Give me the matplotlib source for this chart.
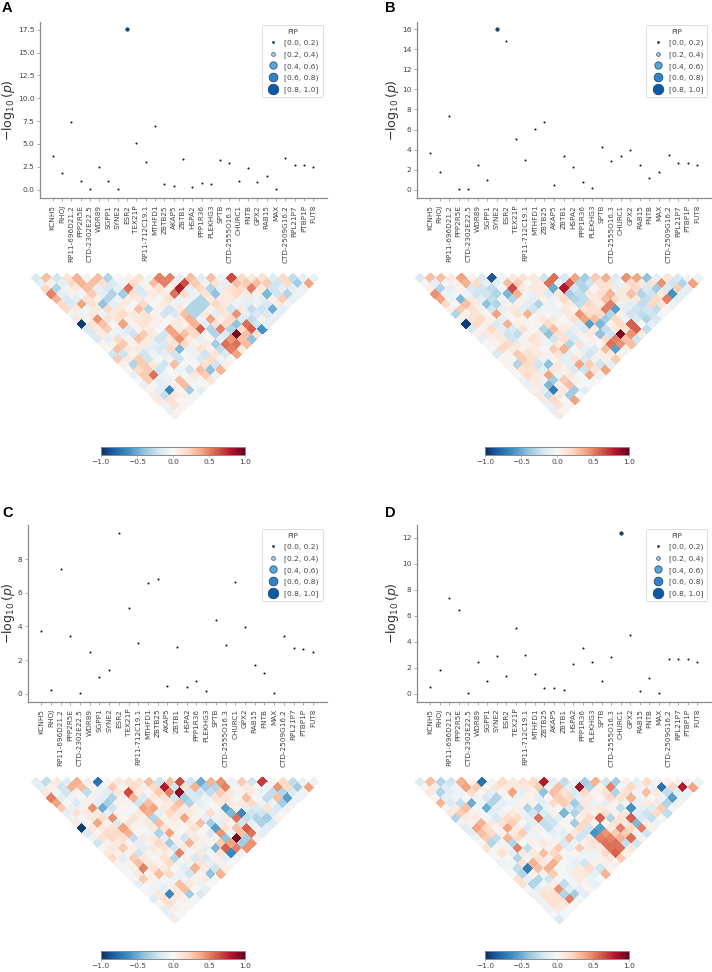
import numpy as np
import matplotlib
matplotlib.use("Agg")
import matplotlib.pyplot as plt
from matplotlib.lines import Line2D

W, H = 712, 972

genes_a = ["KCNH5", "RHOJ", "RP11-696D21.2", "PPP2R5E", "CTD-2302E22.5", "WDR89", "SGPP1", "SYNE2", "ESR2", "TEX21P",
           "RP11-712C19.1", "MTHFD1", "ZBTB25", "AKAP5", "ZBTB1", "HSPA2", "PPP1R36", "PLEKHG3", "SPTB", "CTD-2555O16.3",
           "CHURC1", "FNTB", "GPX2", "RAB15", "MAX", "CTD-2509G16.2", "RPL21P7", "PTBP1P", "FUT8"]
genes_b = ["KCNH5", "RHOJ", "RP11-696D21.2", "PPP2R5E", "CTD-2302E22.5", "WDR89", "SGPP1", "SYNE2", "ESR2", "TEX21P",
           "RP11-712C19.1", "MTHFD1", "ZBTB25", "AKAP5", "ZBTB1", "HSPA2", "PPP1R36", "PLEKHG3", "SPTB", "CTD-2555O16.3",
           "CHURC1", "GPX2", "RAB15", "FNTB", "MAX", "CTD-2509G16.2", "RPL21P7", "PTBP1P", "FUT8"]

logp_a = [3.7, 1.8, 7.4, 0.9, 0.05, 2.45, 1.0, 0.05, 17.55, 5.1, 3.0, 7.0, 0.6, 0.45, 3.4, 0.25, 0.75, 0.65, 3.3, 2.9,
          1.0, 2.35, 0.85, 1.5, 0.03, 3.45, 2.7, 2.65, 2.45]
logp_b = [3.7, 1.8, 7.4, 0.1, 0.03, 2.45, 1.0, 16.0, 14.85, 5.1, 3.0, 6.1, 6.8, 0.45, 3.4, 2.3, 0.75, 0.2, 4.3, 2.85,
          3.4, 3.95, 2.5, 1.2, 1.8, 3.45, 2.7, 2.65, 2.45]
logp_c = [3.7, 0.2, 7.4, 3.45, 0.03, 2.45, 1.0, 1.4, 9.55, 5.1, 3.0, 6.55, 6.8, 0.45, 2.75, 0.4, 0.75, 0.15, 4.35, 2.9,
          6.65, 3.95, 1.7, 1.2, 0.03, 3.45, 2.7, 2.65, 2.45]
logp_d = [0.5, 1.8, 7.4, 6.45, 0.03, 2.45, 1.0, 2.9, 1.4, 5.1, 3.0, 1.55, 0.45, 0.45, 0.25, 2.3, 3.55, 2.45, 1.0, 2.85,
          12.4, 4.5, 0.2, 1.2, 0.03, 2.7, 2.7, 2.65, 2.45]

# gene that carries the high PIP dot in each panel (None = no dot stands out)
lead_a, lead_b, lead_c, lead_d = "ESR2", "SYNE2", None, "CHURC1"

# correlation rows, first row = neighbouring genes, last row = first vs last gene
ld_a = [
    [-.15, .3, -.2, .15, .35, .03, .3, -.3, 0, .05, .15, -.03, .5, .5, -.1, .3, -.1, .3, -.05, .65, .2, .1, .15, -.12, .2, -.25, -.08, -.08],
    [-.1, .05, -.1, .2, .35, .3, .15, -.15, -.05, .2, .05, .3, .5, .1, .65, .25, -.05, .15, -.1, .3, .25, .3, .25, -.2, .2, -.35, .4],
    [.2, -.3, -.05, .1, .3, -.1, -.15, -.1, .55, -.15, .05, .15, .05, .8, -.1, .2, -.3, -.1, .15, .2, .5, .1, -.2, -.1, -.1, -.05],
    [.5, -.1, .05, -.02, .25, -.1, -.3, -.35, .15, -.15, .1, .1, .55, .2, -.05, .15, -.4, .1, .2, .1, .05, -.45, -.2, -.3, -.05],
    [.35, -.15, -.1, .15, .05, -.3, -.05, .1, .1, .05, -.02, .15, -.05, -.05, -.3, .1, .1, .1, -.05, -.1, -.1, .05, .25, -.08],
    [.2, -.15, .4, .15, -.4, -.1, .1, .02, .2, -.03, .1, -.05, .05, -.3, -.3, .2, .1, -.05, -.1, -.05, -.15, .1, -.05],
    [.2, .1, -.05, .1, .2, .1, -.03, .3, -.3, .05, -.2, .1, -.3, -.3, .05, .15, -.2, .1, -.25, -.2, -.5, -.1],
    [-.05, -.05, .1, -.05, .1, .2, .1, .15, .05, -.2, -.15, .3, -.3, .1, -.1, .1, .45, -.1, -.15, -.15, -.1],
    [.1, .05, .45, .15, .15, .05, .1, .15, .05, .02, .1, .35, -.05, .4, .05, .2, -.15, -.25, .05, -.1],
    [-.95, .15, .3, -.02, .4, .05, .15, .05, -.02, .1, .05, .35, -.1, .15, .2, -.4, .55, -.2, -.1],
    [-.15, .1, .25, -.05, -.15, .05, .1, -.02, .4, .1, .2, .6, -.3, .5, -.3, .2, .6, -.6],
    [-.15, .1, -.05, -.1, -.2, .25, .1, -.2, .4, .3, .2, 0, -.3, -.15, .95, .3, .15],
    [-.15, -.1, .2, .05, .3, .1, -.2, .1, .45, .1, -.08, .05, -.1, .45, .3, -.4],
    [.02, .05, .25, .05, .1, -.1, -.15, .15, .2, .05, .1, -.35, .55, .55, .3],
    [.02, .3, .1, .1, -.1, -.15, .2, -.45, -.05, .15, .05, -.25, .5, .1],
    [-.2, -.2, .05, -.2, -.05, -.1, -.2, -.02, -.05, -.2, .15, -.15, .4],
    [.25, .1, .25, -.2, -.03, .05, -.2, -.02, -.15, .2, -.05, -.02],
    [.05, -.3, .25, .1, -.2, .3, 0, .02, .15, -.2, .05],
    [.02, .2, .25, -.2, 0, -.05, -.2, .3, -.4, .35],
    [-.08, .25, .55, -.05, .02, -.03, .1, .25, -.05],
    [-.02, .25, -.1, -.05, .3, .05, -.03, .15],
    [-.08, -.03, -.1, .05, .3, -.03, .02],
    [.03, -.1, -.65, .03, -.35, -.1],
    [.08, -.25, .1, .05, -.03],
    [.1, .15, .03, -.02],
    [-.05, .15, .03],
    [-.08, .03],
    [.05],
]
ld_b = [
    [-.15, .3, .3, .08, .4, .05, -.15, -.85, -.03, .1, .15, .1, -.2, .55, -.15, .4, -.35, .25, .35, -.12, .45, .4, -.4, -.1, .12, -.15, -.05, -.05],
    [-.02, -.1, .05, .05, .35, .2, -.1, -.1, .3, .25, 0, .1, .55, -.05, .6, -.3, -.2, .15, .15, -.05, .2, .1, .15, .45, -.2, -.3, .4],
    [.05, -.3, -.1, .05, -.15, -.2, -.25, -.02, .65, .1, .1, .1, -.5, .8, -.2, -.3, .05, .15, -.1, .1, .2, -.15, -.35, -.15, .25, -.1],
    [.45, -.05, -.05, -.05, -.2, -.2, -.3, -.45, .35, -.05, .1, -.15, .1, -.35, -.25, .1, .15, .35, .1, .3, -.3, -.2, .1, -.6, -.1],
    [.4, -.05, -.45, .1, -.1, -.25, -.05, -.3, .05, -.1, .05, -.05, .2, -.3, -.25, .1, .3, .2, .1, .1, -.25, .2, .5, -.1],
    [.2, .02, .3, .1, -.4, -.3, .05, .05, -.1, -.3, -.05, -.02, .1, -.25, .2, .1, .5, -.05, -.1, -.25, .2, .15, -.05],
    [.05, .25, .15, -.05, -.2, -.1, .1, -.1, -.2, -.05, -.05, .1, .05, .15, .15, .5, -.55, -.1, -.2, -.2, -.25, .02],
    [-.3, .05, .15, .02, .4, .05, .15, .35, .05, -.02, -.05, .1, .45, .2, .2, -.3, .05, -.2, -.25, -.2, -.02],
    [.05, .15, .2, .05, -.1, -.02, .05, .02, .1, .08, .02, .15, .4, .3, -.35, .2, -.05, -.15, -.3, -.15],
    [-.95, .2, .05, -.15, .35, .05, .05, .05, .2, .05, .05, -.1, -.55, -.45, .05, .2, .6, 0, -.1],
    [-.15, .05, .2, -.1, -.15, .15, .02, -.3, .3, .1, -.1, -.15, .1, -.25, .1, .15, .6, -.25],
    [.03, .1, .1, -.2, -.25, .05, .1, -.4, .15, -.15, .05, .1, -.4, -.2, .95, .45, .1],
    [-.1, .05, .1, -.2, -.05, .15, .05, -.2, .15, -.15, .02, .05, .2, .5, .3, -.2],
    [0, .05, .2, .1, .05, .1, -.05, .1, -.3, .15, -.05, .02, .55, .45, .3],
    [0, .2, .1, .05, .1, -.02, .25, .35, -.03, -.1, -.15, .3, -.55, .05],
    [-.15, .03, .25, .15, .1, .05, .15, -.1, .05, -.2, .05, .1, .05],
    [.03, -.03, .25, .15, -.05, .05, -.1, .15, -.15, -.05, .05, .25],
    [.02, -.3, .2, -.2, -.4, .1, -.1, .4, .25, -.2, -.1],
    [.03, .15, .15, -.1, .1, .05, -.15, -.2, .15, .4],
    [-.02, .2, .1, .4, -.05, .1, -.02, .4, -.05],
    [-.05, .1, -.05, -.35, .25, .05, -.02, .02],
    [-.08, .1, -.45, .05, .3, .02, 0],
    [.05, -.1, -.7, .1, -.35, -.1],
    [.1, -.25, .1, -.35, -.02],
    [.08, .2, .02, .4],
    [-.08, .15, .02],
    [-.1, .03],
    [.08],
]
ld_c = [
    [-.1, -.25, .1, -.12, .35, .05, -.75, .02, .08, .15, .15, .3, -.2, .3, .65, -.2, -.5, .35, .45, -.05, .25, -.2, .7, .03, .2, -.25, -.05, -.05],
    [-.1, .05, -.2, .35, .3, .05, -.05, .25, .05, .2, -.05, .2, .8, -.2, .15, .35, -.35, -.3, .5, -.03, .1, .02, -.05, .45, .2, -.35, .4],
    [.1, -.03, -.2, .05, -.25, -.05, -.1, .1, .65, .1, .03, .25, .5, .9, -.15, -.2, -.25, .25, .1, .05, .1, -.05, -.25, -.3, -.15, -.05],
    [.5, -.1, -.05, -.02, .05, -.1, -.3, .05, .35, -.15, .1, .15, -.2, -.35, -.15, -.05, .15, .15, -.03, .3, -.03, -.25, .3, -.55, -.05],
    [.4, .02, -.15, .05, -.1, -.35, .05, .05, -.2, .3, .05, .1, .3, -.3, -.1, -.02, .1, .1, .1, .2, -.05, -.05, -.35, -.05],
    [.25, -.05, .05, .45, -.5, -.2, .02, -.02, .4, .4, .1, .25, .1, .05, -.05, -.02, -.55, .05, -.1, -.15, .15, -.15, -.05],
    [-.1, .15, .1, .1, -.1, .05, -.03, .1, .35, -.1, .2, .1, .1, -.02, .2, -.05, -.45, -.65, -.2, -.2, -.15, -.02],
    [-.05, -.02, .1, .15, .45, .02, .15, .05, -.3, .05, .1, .4, .05, -.1, -.05, .1, .55, -.25, -.3, -.35, .05],
    [.1, .03, .4, .05, -.15, .15, .05, .1, .3, .05, .05, .1, .3, -.35, -.1, .05, -.2, -.1, -.3, -.15],
    [-.95, .1, .1, .15, .4, .05, -.03, .1, .15, .05, .02, .15, -.02, -.55, .15, .3, .6, -.05, -.1],
    [-.15, .05, .2, .2, .35, .02, -.05, -.3, .4, -.02, .1, -.02, -.15, .45, -.05, .3, .55, -.1],
    [-.05, .15, .2, .15, -.25, .1, .1, -.1, .05, -.2, .1, .05, -.05, -.4, .95, -.35, .05],
    [-.2, .05, .1, .05, -.1, .05, .2, -.35, .05, .35, .05, .02, .25, .4, -.35, .45],
    [-.02, .1, .25, .05, -.1, .1, .15, -.2, .1, .05, -.1, -.45, .6, .5, .45],
    [.1, .05, .05, -.2, .05, .05, .05, .5, -.02, .1, -.02, .15, -.65, .05],
    [.2, -.1, .25, .1, -.02, .15, -.3, .05, -.15, -.15, .05, -.1, -.02],
    [.05, .05, .3, .1, .05, .2, -.05, -.05, .15, -.1, .05, -.02],
    [-.03, .05, .5, .15, .1, -.02, -.1, .35, .1, -.2, .05],
    [-.02, .1, .05, .3, .2, -.05, -.2, .05, -.4, .35],
    [-.02, .25, .05, -.03, -.05, -.05, .05, .1, -.03],
    [-.1, .03, -.05, -.05, .3, .1, -.05, .02],
    [0, -.05, -.1, .1, .3, .02, -.08],
    [.02, .1, -.65, .1, -.35, -.15],
    [-.12, .15, .1, .05, -.03],
    [.03, .15, .03, 0],
    [-.1, .05, .02],
    [-.08, -.02],
    [.08],
]
ld_d = [
    [-.12, .3, -.3, -.2, .35, .03, -.75, -.03, .2, .1, .15, .2, .8, -.1, -.25, -.03, -.35, .35, -.2, -.35, .05, -.1, .2, .03, .05, .05, -.05, -.05],
    [.03, .08, -.12, -.05, .4, .25, .03, .15, .1, .1, .1, .25, -.05, .3, -.1, .85, -.3, .05, .5, -.03, .2, .05, -.05, -.75, .2, .8, .4],
    [.1, -.3, -.1, -.05, .2, .02, -.1, .05, .4, -.1, .05, -.4, .3, .15, -.15, .2, .03, .15, -.3, .15, -.05, .3, .1, -.25, -.1, -.05],
    [.02, -.1, -.05, -.02, -.05, -.15, -.3, .02, -.05, .05, -.1, .02, .25, .2, -.1, .1, .02, .2, .15, .35, -.05, .02, -.05, -.55, -.05],
    [.35, -.15, -.25, -.5, -.05, -.3, -.1, -.05, .02, .05, -.1, .2, .25, -.35, .1, -.05, -.1, .05, -.05, -.05, .08, .1, -.3, -.05],
    [.02, .1, .3, -.02, -.5, -.1, .02, .05, -.3, -.35, -.05, .02, -.15, -.25, .08, .1, .05, -.25, -.6, -.1, -.12, .25, -.02],
    [.1, .25, .05, -.02, -.1, -.05, .1, -.05, -.2, -.15, .05, -.45, -.3, .1, .05, .15, .05, .1, -.1, -.2, .2, -.25],
    [-.3, .08, .1, -.02, -.15, .2, .2, -.1, .55, -.2, -.1, .02, .05, .2, .6, -.3, .15, .6, -.15, -.25, -.02],
    [-.05, .05, .35, .1, .15, .25, .02, -.1, -.25, -.2, .02, -.35, .2, .05, .02, .15, .1, -.45, .05, -.05],
    [-.1, .4, .2, .02, .4, .1, -.15, .05, -.25, -.05, .02, .2, -.2, -.55, .1, .5, .2, .5, .05],
    [-.1, .3, .2, .05, .1, .25, -.05, -.02, -.1, -.1, .1, -.2, -.6, .45, .25, .25, .05, -.2],
    [-.05, .25, -.25, .35, .2, -.05, -.05, .02, -.05, .3, -.2, .1, .5, .5, .35, .55, .05],
    [.02, -.3, -.05, -.3, -.02, .05, .1, .05, -.15, -.05, .05, .15, .55, .55, -.25, -.2],
    [.15, .03, .05, .5, -.25, .02, .05, .25, -.1, .25, .1, .1, .55, .55, .1],
    [-.02, .15, -.1, .1, .1, .3, .2, .02, .02, -.05, -.05, .2, .6, .05],
    [-.03, .02, -.3, -.05, .15, .05, .25, -.05, -.05, -.05, .05, .1, .25],
    [-.05, -.05, .15, .35, .1, .35, -.02, -.1, -.2, .05, .05, .05],
    [-.03, -.25, -.7, .3, .35, -.02, -.05, .1, .2, -.2, .03],
    [-.02, -.3, .05, .05, .25, -.02, .1, .1, -.1, .35],
    [.15, -.1, -.3, -.2, .03, -.05, .1, -.05, -.02],
    [.15, -.3, -.05, .05, -.25, -.03, .03, -.08],
    [-.03, -.1, .1, .45, -.1, -.1, .02],
    [-.05, .15, .15, -.3, -.35, -.1],
    [-.05, .15, .15, .5, -.03],
    [-.05, .15, .1, .02],
    [-.05, .1, -.02],
    [-.02, -.02],
    [-.15],
]

pip_labels = ["[0.0, 0.2)", "[0.2, 0.4)", "[0.4, 0.6)", "[0.6, 0.8)", "[0.8, 1.0]"]
pip_colors = ["#1d3f5e", "#b5d5ea", "#5aa5da", "#2f82c6", "#0b5aa6"]
pip_sizes = [2.2, 7, 28, 40, 58]
cbar_ticks = [-1.0, -0.5, 0.0, 0.5, 1.0]

TXT = "#444444"
SPINE = "#8a8a8a"


def px_axes(fig, left, top, right, bottom):
    return fig.add_axes([left / W, 1 - bottom / H, (right - left) / W, (bottom - top) / H])


def draw_scatter(fig, box, genes, logp, lead, ylim, yticks, legend_xy, label_x):
    ax = px_axes(fig, *box)
    x = np.arange(len(genes))
    ax.scatter(x, logp, s=pip_sizes[0], c="#1a1a1a", linewidths=0, zorder=3)
    if lead is not None:
        i = genes.index(lead)
        ax.scatter(x[i], logp[i], s=7, c="#14456f", edgecolors="#1a2f44", linewidths=0.3, zorder=4)
    ax.set_xlim(-1.36, 29.45)
    ax.set_ylim(*ylim)
    ax.set_xticks(x)
    ax.set_xticklabels(genes, rotation=90, fontsize=5.2, color=TXT)
    ax.set_yticks(yticks)
    ax.tick_params(axis="y", labelsize=5.4, labelcolor=TXT, length=2, width=0.5, color=SPINE, pad=2)
    ax.tick_params(axis="x", length=2, width=0.5, color=SPINE, pad=3)
    for s in ["top", "right"]:
        ax.spines[s].set_visible(False)
    for s in ["left", "bottom"]:
        ax.spines[s].set_color(SPINE)
        ax.spines[s].set_linewidth(0.9)
    ax.set_ylabel(r"$-\log_{10}(p)$", fontsize=9, color="#333333")
    ax.yaxis.set_label_coords((label_x - box[0]) / (box[2] - box[0]), 0.5)

    handles = [Line2D([], [], ls="", marker="o", markersize=np.sqrt(s), markerfacecolor=c,
                      markeredgecolor="#1f3f60", markeredgewidth=0.5)
               for s, c in zip(pip_sizes, pip_colors)]
    leg = ax.legend(handles, pip_labels, title="PIP", fontsize=5.4, title_fontsize=5.2, loc="upper right",
                    bbox_to_anchor=(legend_xy[0] / W, 1 - legend_xy[1] / H), bbox_transform=fig.transFigure,
                    borderaxespad=0, labelcolor=TXT, framealpha=0.9, labelspacing=0.62, handletextpad=0.5,
                    borderpad=0.5)
    leg.get_title().set_color(TXT)
    leg.get_frame().set_linewidth(0.5)


def draw_triangle(fig, box, cbar_box, rows):
    ax = px_axes(fig, *box)
    n = len(rows) + 1
    m = np.full((n, n), np.nan)
    for r, row in enumerate(rows):
        for p, v in enumerate(row):
            m[p, p + r + 1] = v
    # rotate the upper triangle by 45 degrees
    ii, jj = np.meshgrid(np.arange(n + 1), np.arange(n + 1), indexing="ij")
    mesh = ax.pcolormesh((ii + jj) / 2, (ii - jj) / 2, np.ma.masked_invalid(m), cmap="RdBu_r", vmin=-1, vmax=1,
                         edgecolors="none", antialiased=False)
    ax.set_xlim(0.5, n - 0.5)
    ax.set_ylim(-(n + 0.5) / 2, 0)
    ax.axis("off")

    cax = px_axes(fig, *cbar_box)
    cb = fig.colorbar(mesh, cax=cax, orientation="horizontal", ticks=cbar_ticks)
    cb.ax.tick_params(labelsize=5.4, labelcolor=TXT, length=1.5, width=0.4, color=SPINE, pad=1.5)
    cb.outline.set_edgecolor(SPINE)
    cb.outline.set_linewidth(0.7)


fig = plt.figure(figsize=(W / 100, H / 100), dpi=100)

draw_scatter(fig, (40, 21.7, 326.7, 198), genes_a, logp_a, lead_a, (-0.91, 18.37),
             [0, 2.5, 5, 7.5, 10, 12.5, 15, 17.5], (322.7, 25), 17.5)
draw_scatter(fig, (417, 21.7, 711, 198), genes_b, logp_b, lead_b, (-0.83, 16.76),
             [0, 2, 4, 6, 8, 10, 12, 14, 16], (707, 25), 401)
draw_scatter(fig, (28, 525, 327, 701.7), genes_b, logp_c, lead_c, (-0.475, 10.02),
             [0, 2, 4, 6, 8], (322.7, 529), 17.5)
draw_scatter(fig, (417, 525, 711, 701.7), genes_b, logp_d, lead_d, (-0.617, 13.0),
             [0, 2, 4, 6, 8, 10, 12], (707, 529), 401)

draw_triangle(fig, (31, 273.3, 319, 422.7), (100.7, 446.7, 245.3, 455), ld_a)
draw_triangle(fig, (415, 273.3, 703.7, 422.7), (485, 446.7, 629.3, 455), ld_b)
draw_triangle(fig, (31, 777.3, 319, 926.7), (100.7, 950.7, 245.3, 958.7), ld_c)
draw_triangle(fig, (415, 777.3, 703.7, 926.7), (485, 950.7, 629.3, 958.7), ld_d)

for letter, x, y in [("A", 2, 12), ("B", 385, 12), ("C", 2, 517), ("D", 385, 517)]:
    fig.text(x / W, 1 - y / H, letter, fontsize=10.5, fontweight="bold", family="Liberation Sans", color="black")

fig.savefig("out.png", dpi=100)
